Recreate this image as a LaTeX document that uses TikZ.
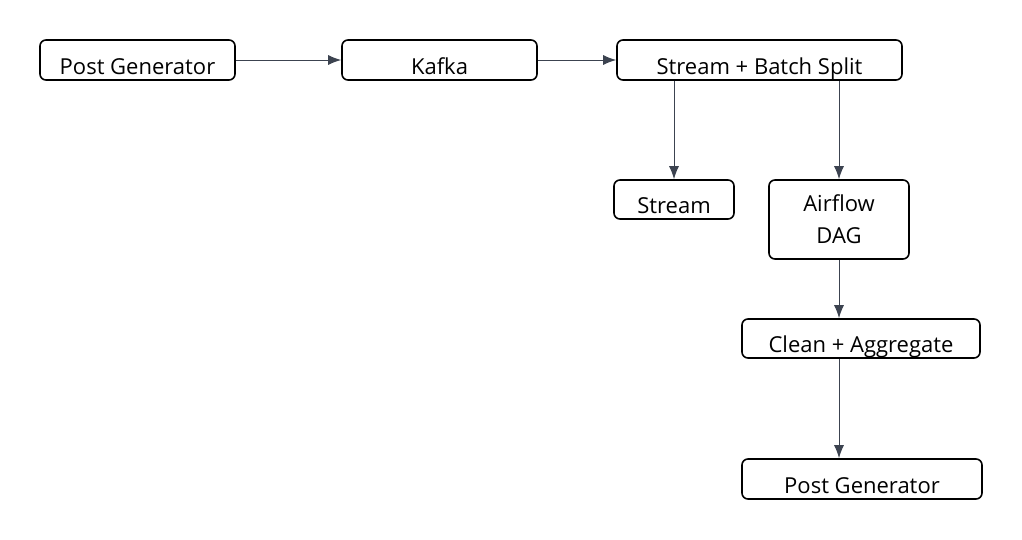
\documentclass[tikz,border=0pt]{standalone}
\usepackage{fontspec}
\setmainfont{Open Sans}
\usetikzlibrary{arrows.meta}
\definecolor{edgegray}{HTML}{3C4350}
\tikzset{
  box/.style={draw=black, line width=1.6pt, rounded corners=6pt, fill=white,
    inner sep=0pt, align=center, font=\fontsize{22}{32}\selectfont},
  oneline/.style={text height=30pt, text depth=2pt},
  flow/.style={draw=edgegray, line width=1pt, -{Latex[length=13pt,width=10pt]}}
}
\begin{document}
\begin{tikzpicture}[x=1pt, y=-1pt]
   \useasboundingbox (0,0) rectangle (1022,539);
   % Top row
   \node[box, oneline, minimum width=195pt, minimum height=40pt] (gen) at (137.5,60) {Post Generator};
   \node[box, oneline, minimum width=195pt, minimum height=40pt] (kafka) at (439.5,60) {Kafka};
   \node[box, oneline, minimum width=285pt, minimum height=40pt] (split) at (759.5,60) {Stream + Batch Split};
   \draw[flow] (gen.east) -- (kafka.west);
   \draw[flow] (kafka.east) -- (split.west);

   % Stream and batch branches
   \node[box, oneline, minimum width=120pt, minimum height=39pt] (stream) at (674,199.5) {Stream};
   \node[box, minimum width=140pt, minimum height=79pt] (dag) at (839,219.5) {Airflow\\DAG};
   \draw[flow] (split.south -| stream) -- (stream.north);
   \draw[flow] (split.south -| dag) -- (dag.north);

   % Batch path
   \node[box, oneline, minimum width=238pt, minimum height=39pt] (clean) at (861,338.5) {Clean + Aggregate};
   \node[box, oneline, minimum width=240pt, minimum height=40pt] (sink) at (862,479) {Post Generator};
   \draw[flow] (dag.south) -- (dag.south |- clean.north);
   \draw[flow] (dag.south |- clean.south) -- (dag.south |- sink.north);
\end{tikzpicture}
\end{document}
